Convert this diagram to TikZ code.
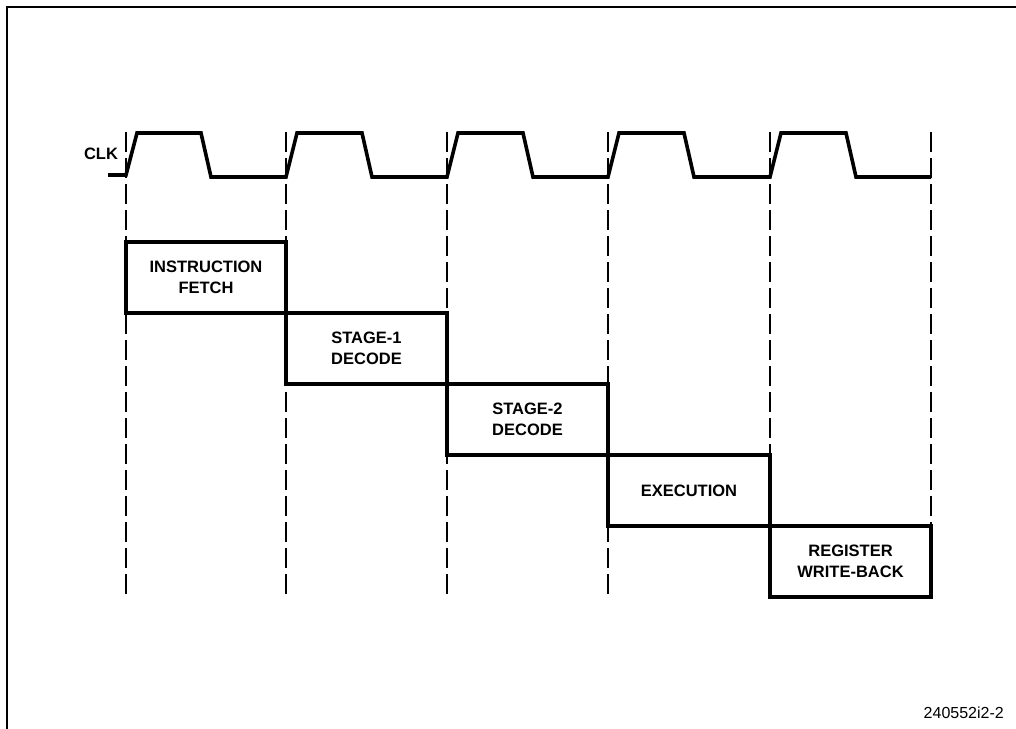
\documentclass[tikz,border=0pt]{standalone}
\usepackage{fontspec}
\setmainfont{Liberation Sans}
\begin{document}
\begin{tikzpicture}[x=1pt,y=-1pt,
  wave/.style={line width=3.6pt,line join=miter},
  guide/.style={line width=1.5pt,dash pattern=on 20pt off 6pt},
  stagebox/.style={draw,line width=3.4pt,minimum width=160pt,minimum height=71pt,
    inner sep=0pt,align=center,font=\fontsize{16.5}{21}\selectfont\bfseries},
  lbl/.style={font=\fontsize{16.5}{18}\selectfont\bfseries,inner sep=0pt}]
\useasboundingbox (0,0) rectangle (1016,728);
% frame
\draw[line width=2.4pt] (7,740) -- (7,7) -- (1030,7);
% guides
\foreach \x/\n in {126/g0,286/g1,447/g2,608/g3,770/g4,931/g5}{
  \coordinate (\n t) at (\x,132);
  \coordinate (\n b) at (\x,597);
  \draw[guide] (\n t) -- (\n b);
}
% clock
\coordinate (cs) at (108,175);
\draw[wave] (cs) -- (126,175)
  -- (137,133) -- (201,133) -- (211,177) -- (286,177)
  -- (297,133) -- (362,133) -- (372,177) -- (447,177)
  -- (458,133) -- (523,133) -- (533,177) -- (608,177)
  -- (619,133) -- (684,133) -- (694,177) -- (770,177)
  -- (781,133) -- (846,133) -- (856,177) -- (931,177);
\node[lbl] (clk) at (101,154) {CLK};
% stages
\node[stagebox] (s1) at (206,277.5) {INSTRUCTION\\FETCH};
\node[stagebox,minimum width=161pt] (s2) at (366.5,348.5) {STAGE-1\\DECODE};
\node[stagebox,minimum width=161pt] (s3) at (527.5,419.5) {STAGE-2\\DECODE};
\node[stagebox,minimum width=162pt] (s4) at (689,490.5) {EXECUTION};
\node[stagebox,minimum width=161pt] (s5) at (850.5,561.5) {REGISTER\\WRITE-BACK};
\node[font=\fontsize{16}{18}\selectfont,inner sep=0pt,anchor=east] (id) at (1004,713) {240552i2-2};
\end{tikzpicture}
\end{document}
